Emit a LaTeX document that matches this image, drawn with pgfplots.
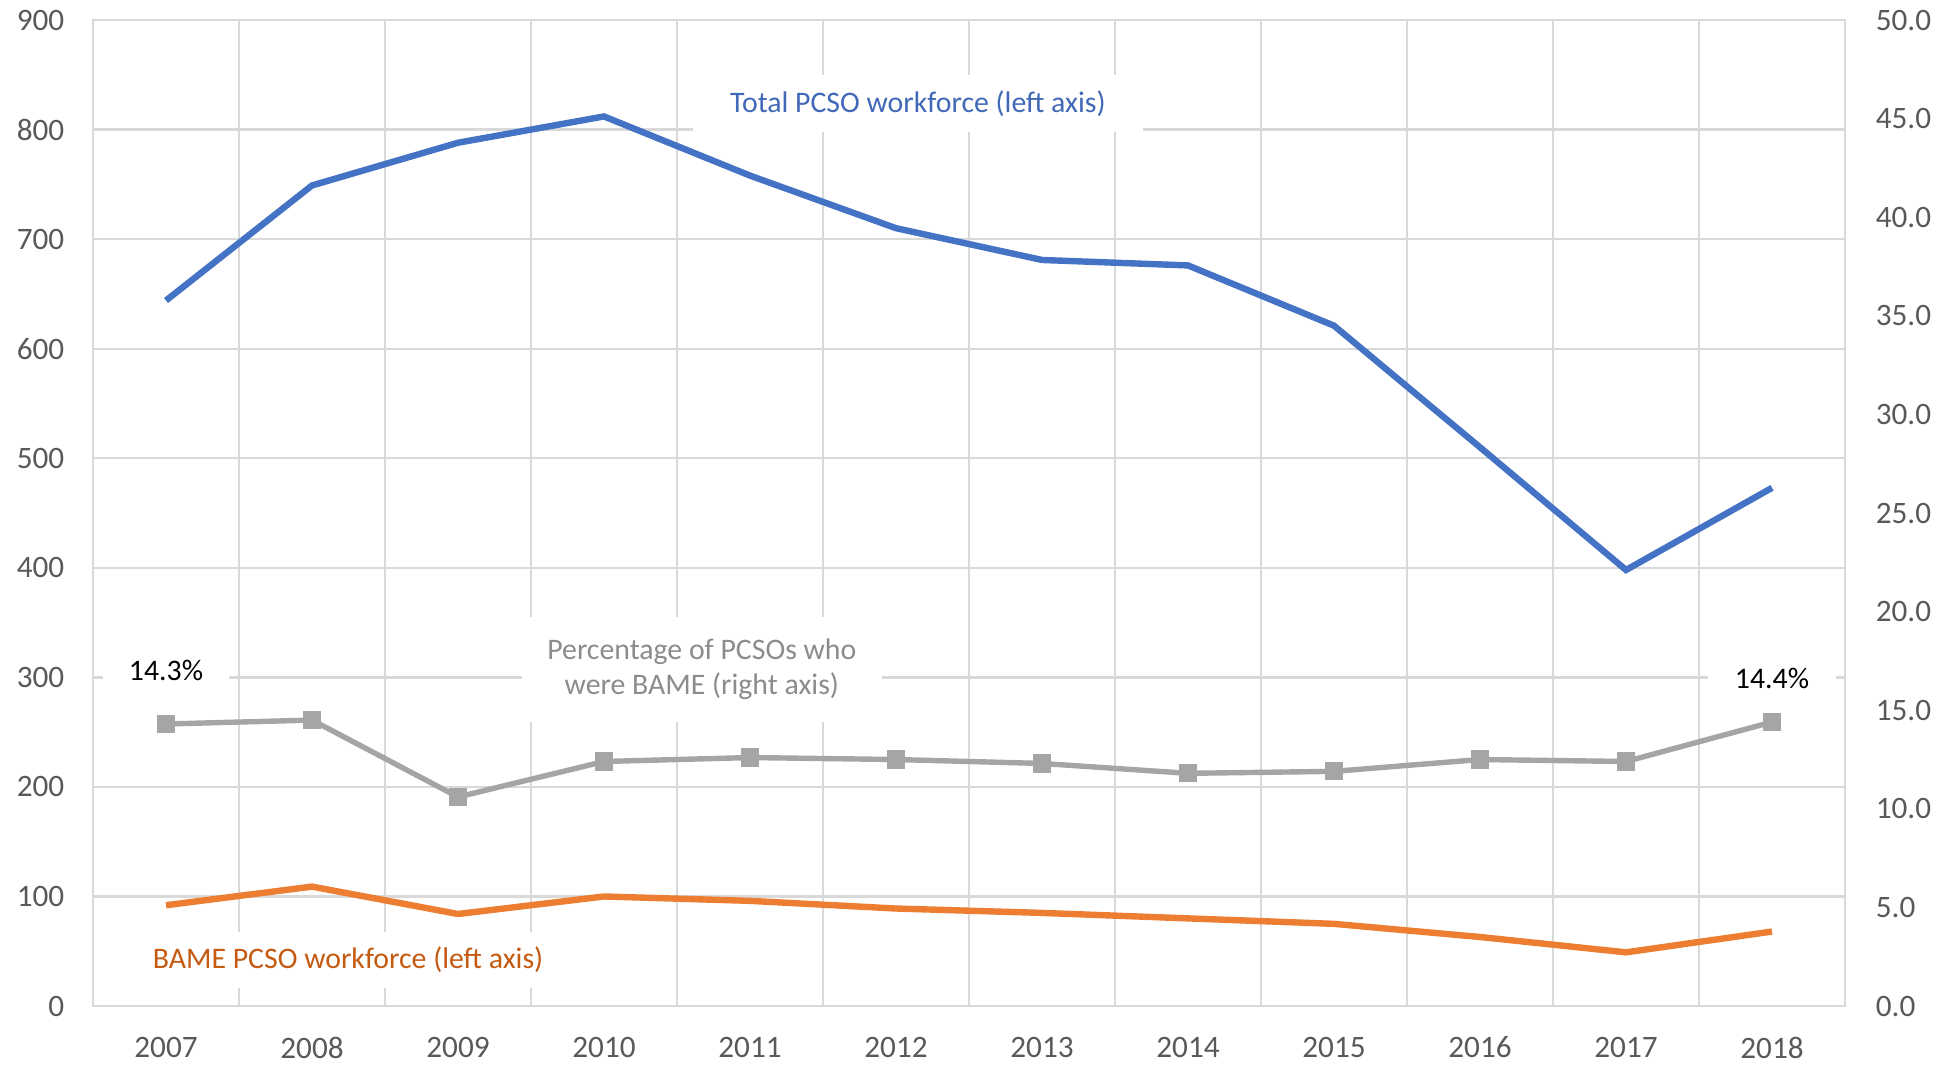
\documentclass[border=0pt]{standalone}
\usepackage{pgfplots}
\pgfplotsset{compat=1.18}
\usepackage{fontspec}
\setmainfont{Carlito}
\definecolor{cblue}{HTML}{4472C4}
\definecolor{corange}{HTML}{ED7D31}
\definecolor{cgray}{HTML}{A5A5A5}
\definecolor{gridc}{HTML}{D9D9D9}
\definecolor{tickc}{HTML}{595959}
\definecolor{tblue}{HTML}{4169B8}
\definecolor{torange}{HTML}{C55A11}
\definecolor{tgray}{HTML}{8C8C8C}
\begin{document}
\begin{tikzpicture}
\pgfplotsset{
  every axis/.append style={
    scale only axis, width=438pt, height=246.5pt, xmin=-0.5, xmax=11.5,
    font=\fontsize{7.8}{9}\selectfont,
    /pgf/number format/assume math mode=true,
    clip=false,
  },
}
\tikzset{lbl/.style={fill=white, inner sep=0pt, font=\fontsize{7.45}{8.9}\selectfont}}
\begin{axis}[
  ymin=0, ymax=900, ytick={0,100,...,900},
  xtick={0,...,11},
  xticklabels={2007,2008,2009,2010,2011,2012,2013,2014,2015,2016,2017,2018},
  minor xtick={-0.5,0.5,...,11.5},
  xmajorgrids=false, xminorgrids=true, ymajorgrids=true,
  major tick length=0pt, minor tick length=0pt,
  major grid style={draw=gridc, line width=0.6pt},
  minor grid style={draw=gridc, line width=0.6pt},
  axis line style={draw=gridc, line width=0.6pt},
  tick label style={text=tickc},
  yticklabel style={inner sep=0pt, xshift=-7pt},
  xticklabel style={inner sep=0pt, yshift=-7.5pt},
  /pgf/number format/1000 sep={},
]
\addplot[cblue, line width=1.6pt] coordinates {(0,644) (1,749) (2,788) (3,812) (4,758) (5,710) (6,681) (7,676) (8,621) (9,510) (10,398) (11,473)};
\addplot[corange, line width=1.6pt] coordinates {(0,92) (1,109) (2,84) (3,100) (4,96) (5,89) (6,85) (7,80) (8,75) (9,63) (10,49) (11,68)};
\end{axis}
\begin{axis}[
  ymin=0, ymax=50, ytick={0,5,...,50},
  axis y line*=right, axis x line=none,
  y axis line style={draw=none},
  major tick length=0pt,
  yticklabel style={inner sep=0pt, xshift=7.5pt, text=tickc,
    /pgf/number format/.cd, fixed, fixed zerofill, precision=1},
]
\addplot[cgray, line width=1.35pt, mark=square*, mark size=1.6pt, mark options={solid, fill=cgray, draw=cgray}] coordinates {(0,14.3) (1,14.5) (2,10.6) (3,12.4) (4,12.6) (5,12.5) (6,12.3) (7,11.8) (8,11.9) (9,12.5) (10,12.4) (11,14.4)};
\node[lbl, minimum width=112.5pt, minimum height=14.25pt, text=tblue] at (axis cs:5.15,45.77) {Total PCSO workforce (left axis)};
\node[lbl, minimum width=90pt, minimum height=26.25pt, text=tgray, align=center] at (axis cs:3.67,17.07) {Percentage of PCSOs who\\were BAME (right axis)};
\node[lbl, minimum width=31.5pt, minimum height=11pt, text=black] at (axis cs:0,17.04) {14.3\%};
\node[lbl, minimum width=32pt, minimum height=11pt, text=black] at (axis cs:11,16.63) {14.4\%};
\node[lbl, minimum width=105pt, minimum height=14pt, text=torange] at (axis cs:1.247,2.33) {BAME PCSO workforce (left axis)};
\end{axis}
\pgfresetboundingbox
\path (-23.25pt,-14.5pt) rectangle (462.75pt,251.5pt);
\end{tikzpicture}
\end{document}
